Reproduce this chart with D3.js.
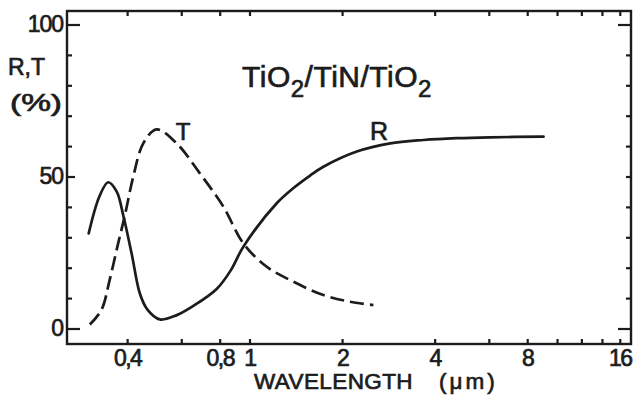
<!DOCTYPE html>
<html>
<head>
<meta charset="utf-8">
<script src="https://cdn.jsdelivr.net/npm/d3@7"></script>
<style>
  html, body { margin: 0; padding: 0; background: #ffffff; }
  svg { display: block; }
  text { font-family: "Liberation Sans", Arial, sans-serif; fill: #1c1c1c; stroke: #1c1c1c; stroke-width: 0.7px; }
</style>
</head>
<body>
<svg id="chart" width="633" height="397"></svg>
<script>
// Reflectance (R) and transmittance (T) spectra of a TiO2/TiN/TiO2 stack
const wavelengthR = [0.30, 0.325, 0.347, 0.37, 0.389, 0.414, 0.44, 0.465, 0.511, 0.58, 0.656, 0.782, 0.87, 0.955, 1.226, 1.39, 1.574, 1.739, 2.233, 2.866, 3.678, 4.724, 6.063, 9.04];
const reflectance = [31.3, 43.4, 48.1, 45, 37, 24.5, 11.5, 6.3, 3.0, 4.4, 7.4, 13.0, 19.2, 26.9, 41.2, 46.2, 50.3, 53.2, 58.2, 60.9, 62.0, 62.6, 62.9, 63.1];

const wavelengthT = [0.3026, 0.330, 0.351, 0.374, 0.3935, 0.4187, 0.4514, 0.499, 0.5795, 0.690, 0.822, 0.955, 1.138, 1.389, 1.739, 2.124, 2.529];
const transmittance = [1.3, 6.1, 16, 28, 37.3, 49.9, 60.9, 65.5, 60.9, 51.0, 40.1, 28, 20.3, 15.4, 11, 8.8, 7.7];

const xTickValues = [0.4, 0.6, 0.8, 1, 2, 4, 6, 8, 10, 12, 14, 16];
const xLabelValues = [0.4, 0.8, 1, 2, 4, 8, 16];
const xLabelText = ["0,4", "0,8", "1", "2", "4", "8", "16"];
const yTickValues = d3.range(0, 101, 10);
const yLabelValues = [0, 50, 100];

const ink = "#1c1c1c";
const svg = d3.select("#chart");

const frame = { left: 67, right: 631, top: 11, bottom: 344 };
const x = d3.scaleLog().domain([0.255, 17.4]).range([frame.left, frame.right]);
const y = d3.scaleLinear().domain([0, 100]).range([328.5, 24.5]);

// Frame
svg.append("rect")
  .attr("x", frame.left).attr("y", frame.top)
  .attr("width", frame.right - frame.left).attr("height", frame.bottom - frame.top)
  .attr("fill", "none").attr("stroke", ink).attr("stroke-width", 2.4);

const labelFor = v => {
  const i = xLabelValues.indexOf(v);
  return i >= 0 ? xLabelText[i] : "";
};

function styleAxis(g) {
  g.select(".domain").remove();
  g.selectAll(".tick line").attr("stroke", ink).attr("stroke-width", 2.2);
}

function styleLabels(g, spacing) {
  g.selectAll(".tick text")
    .attr("font-size", 23).attr("letter-spacing", spacing)
    .style("font-family", "'Liberation Sans', Arial, sans-serif")
    .attr("fill", ink).attr("stroke", ink).attr("stroke-width", 0.7);
}

// Bottom axis: inward ticks, labelled at selected wavelengths
svg.append("g")
  .attr("transform", `translate(0,${frame.bottom})`)
  .call(d3.axisBottom(x).tickValues(xTickValues).tickSize(-5).tickPadding(6).tickFormat(labelFor))
  .call(styleAxis)
  .call(g => styleLabels(g, -1.5));

// Top axis: ticks only
svg.append("g")
  .attr("transform", `translate(0,${frame.top})`)
  .call(d3.axisTop(x).tickValues(xTickValues).tickSize(-5).tickFormat(""))
  .call(styleAxis);

// Left axis
const majorLen = v => (v === 0 || v === 100) ? 13 : (v === 50 ? 8 : 5);
svg.append("g")
  .attr("transform", `translate(${frame.left},0)`)
  .call(d3.axisLeft(y).tickValues(yTickValues).tickSize(-5).tickPadding(4)
    .tickFormat(v => yLabelValues.includes(v) ? String(v) : ""))
  .call(styleAxis)
  .call(g => g.selectAll(".tick line").attr("x2", d => majorLen(d)))
  .call(g => styleLabels(g, -1));

// Right axis: ticks only
svg.append("g")
  .attr("transform", `translate(${frame.right},0)`)
  .call(d3.axisRight(y).tickValues(yTickValues).tickSize(-5).tickFormat(""))
  .call(styleAxis)
  .call(g => g.selectAll(".tick line").attr("x2", d => (d === 0 || d === 100) ? -13 : -5));

// Curves
const line = d3.line()
  .x(d => x(d[0]))
  .y(d => y(d[1]))
  .curve(d3.curveCatmullRom.alpha(0.5));

svg.append("path")
  .datum(d3.zip(wavelengthR, reflectance))
  .attr("d", line)
  .attr("fill", "none").attr("stroke", ink).attr("stroke-width", 2.7)
  .attr("stroke-linecap", "round");

svg.append("path")
  .datum(d3.zip(wavelengthT, transmittance))
  .attr("d", line)
  .attr("fill", "none").attr("stroke", ink).attr("stroke-width", 2.7)
  .attr("stroke-dasharray", "14,6");

// Curve labels
svg.append("text").attr("x", 183).attr("y", 140).attr("text-anchor", "middle")
  .attr("font-size", 24).text("T");
svg.append("text").attr("x", 379).attr("y", 140).attr("text-anchor", "middle")
  .attr("font-size", 25).text("R");

// Title with subscripts
const title = svg.append("text").attr("x", 242).attr("y", 87).attr("font-size", 30).attr("letter-spacing", 0.5);
title.append("tspan").text("TiO");
title.append("tspan").attr("dy", 10).attr("font-size", 24).text("2");
title.append("tspan").attr("dy", -10).text("/TiN/TiO");
title.append("tspan").attr("dy", 10).attr("font-size", 24).text("2");

// Y axis title
svg.append("text").attr("x", 8).attr("y", 75).attr("font-size", 23).text("R,T");
svg.append("text").attr("x", 10).attr("y", 111).attr("font-size", 24)
  .attr("textLength", 52).attr("lengthAdjust", "spacingAndGlyphs").text("(%)");

// X axis title
const xt = svg.append("text").attr("x", 254).attr("y", 389).attr("font-size", 22.5).attr("letter-spacing", 0.4);
xt.append("tspan").text("WAVELENGTH");
xt.append("tspan").attr("dx", 26).attr("letter-spacing", 3).text("(μm)");
</script>
</body>
</html>
